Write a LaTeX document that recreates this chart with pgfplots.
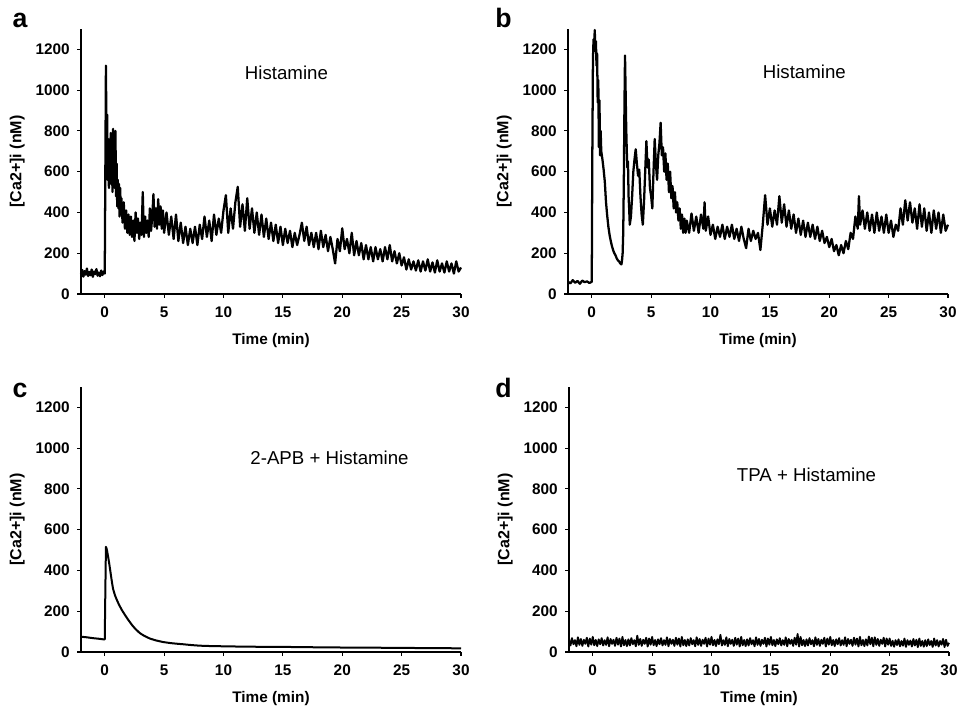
\documentclass[border=0pt]{standalone}
\usepackage{pgfplots}
\pgfplotsset{compat=1.18}
\usepackage{fontspec}
\setmainfont{Liberation Sans}
\begin{document}
\begin{tikzpicture}
\useasboundingbox (0,0) rectangle (721.5pt,532.5pt);
\pgfplotsset{
 panel/.style={
  width=285pt, height=198.75pt, scale only axis,
  xmin=-2, xmax=30, ymin=0, ymax=1300,
  axis x line*=bottom, axis y line*=left,
  axis line style={line width=0.8pt,-},
  xtick={0,5,...,30}, ytick={0,200,...,1200},
  tick align=outside, major tick length=3pt,
  tick style={line width=0.8pt,black},
  ticklabel style={font=\fontsize{11.5}{13}\selectfont\bfseries},
  xticklabel style={yshift=-3pt},
  yticklabel style={xshift=-2pt},
  /pgf/number format/assume math mode=true,
  /pgf/number format/1000 sep={},
  xlabel={Time (min)}, ylabel={[Ca2+]i (nM)},
  xlabel style={font=\fontsize{11.5}{13}\selectfont\bfseries, at={(axis description cs:0.5,-0.176)}, anchor=center},
  ylabel style={font=\fontsize{12}{14}\selectfont\bfseries, at={(axis description cs:-0.168,0.5)}, anchor=center},
  clip=false,
 },
 trace/.style={black, line width=1.7pt, line join=round},
 smooth trace/.style={black, line width=1.5pt, line join=round}
}
% panel letters
\node[anchor=base west, font=\fontsize{20}{22}\selectfont\bfseries] at (6pt,512pt) {a};
\node[anchor=base west, font=\fontsize{20}{22}\selectfont\bfseries] at (368pt,512pt) {b};
\node[anchor=base west, font=\fontsize{20}{22}\selectfont\bfseries] at (6pt,234pt) {c};
\node[anchor=base west, font=\fontsize{20}{22}\selectfont\bfseries] at (368pt,234pt) {d};

% ---------------- a
\begin{axis}[panel, at={(60.75pt,312pt)}, anchor=south west]
\addplot[trace] coordinates {
(-2.0,100)(-1.9,118)(-1.8,85)(-1.7,112)(-1.6,95)(-1.5,125)(-1.4,88)(-1.3,108)(-1.2,92)(-1.1,120)
(-1.0,84)(-0.9,110)(-0.8,98)(-0.7,122)(-0.6,90)(-0.5,105)(-0.4,87)(-0.3,115)(-0.2,93)(-0.1,110)(0.0,100)
(0.05,600)(0.1,1120)(0.15,700)(0.2,880)(0.25,560)(0.3,760)(0.35,520)(0.4,700)(0.45,540)(0.5,790)
(0.55,580)(0.6,720)(0.65,500)(0.7,810)(0.75,560)(0.8,690)(0.85,520)(0.9,800)(0.95,480)(1.0,640)
(1.05,430)(1.1,560)(1.15,420)(1.2,540)(1.25,380)(1.3,520)(1.35,390)(1.4,470)(1.5,350)(1.6,450)
(1.7,320)(1.8,410)(1.9,300)(2.0,390)(2.1,290)(2.2,380)(2.3,280)(2.4,360)(2.5,260)(2.6,400)
(2.7,300)(2.8,370)(2.9,270)(3.0,350)(3.1,290)(3.2,500)(3.3,280)(3.4,380)(3.5,300)(3.6,360)
(3.7,280)(3.8,420)(3.9,310)(4.0,380)(4.1,490)(4.2,330)(4.3,420)(4.4,320)(4.5,465)(4.6,340)
(4.7,430)(4.8,320)(4.9,410)(5.0,300)(5.2,400)(5.4,290)(5.6,380)(5.8,270)(6.0,390)(6.2,260)
(6.4,350)(6.6,250)(6.8,330)(7.0,240)(7.2,320)(7.4,250)(7.6,330)(7.8,240)(8.0,340)(8.2,270)
(8.4,380)(8.6,280)(8.8,360)(9.0,260)(9.2,390)(9.4,290)(9.6,370)(9.8,300)(10.0,410)(10.2,485)
(10.4,300)(10.6,420)(10.8,320)(11.0,450)(11.2,526)(11.4,330)(11.6,440)(11.8,310)(12.0,470)(12.2,320)
(12.4,420)(12.6,300)(12.8,400)(13.0,290)(13.2,390)(13.4,280)(13.6,370)(13.8,270)(14.0,350)(14.2,260)
(14.4,340)(14.6,250)(14.8,330)(15.0,240)(15.2,320)(15.4,250)(15.6,310)(15.8,230)(16.0,300)(16.2,240)
(16.4,290)(16.6,350)(16.8,260)(17.0,330)(17.2,240)(17.4,300)(17.6,230)(17.8,300)(18.0,220)(18.2,310)
(18.4,230)(18.6,290)(18.8,210)(19.0,280)(19.2,220)(19.4,150)(19.6,270)(19.8,210)(20.0,322)(20.2,220)
(20.4,270)(20.6,200)(20.8,300)(21.0,190)(21.2,260)(21.4,190)(21.6,250)(21.8,170)(22.0,240)(22.2,170)
(22.4,230)(22.6,160)(22.8,230)(23.0,170)(23.2,220)(23.4,160)(23.6,230)(23.8,170)(24.0,240)(24.2,160)
(24.4,210)(24.6,150)(24.8,200)(25.0,140)(25.2,180)(25.4,120)(25.6,170)(25.8,120)(26.0,160)(26.2,115)
(26.4,165)(26.6,110)(26.8,160)(27.0,115)(27.2,170)(27.4,110)(27.6,155)(27.8,105)(28.0,165)(28.2,110)
(28.4,150)(28.6,105)(28.8,160)(29.0,110)(29.2,150)(29.4,100)(29.6,160)(29.8,110)(30.0,130)
};
\node[font=\fontsize{14}{16}\selectfont] at (axis cs:15.3,1084) {Histamine};
\end{axis}

% ---------------- b
\begin{axis}[panel, at={(426pt,312pt)}, anchor=south west]
\addplot[trace] coordinates {
(-2.0,60)(-1.8,52)(-1.6,68)(-1.4,55)(-1.2,64)(-1.0,50)(-0.8,66)(-0.6,58)(-0.4,62)(-0.2,54)(0.0,60)
(0.05,700)(0.1,1150)(0.15,1250)(0.2,1190)(0.25,1295)(0.3,1210)(0.35,1240)(0.4,1120)(0.45,1180)(0.5,940)
(0.55,1050)(0.6,720)(0.65,950)(0.7,680)(0.75,800)(0.8,700)(0.9,660)(1.0,610)(1.1,550)(1.2,450)
(1.3,385)(1.4,330)(1.5,290)(1.6,260)(1.7,235)(1.8,215)(1.9,200)(2.0,190)(2.1,175)(2.2,165)
(2.3,160)(2.4,150)(2.5,145)(2.55,165)(2.6,200)(2.65,300)(2.7,550)(2.75,900)(2.8,1170)(2.85,1000)
(2.9,820)(2.95,700)(3.0,620)(3.05,650)(3.1,480)(3.15,420)(3.2,340)(3.3,380)(3.4,480)(3.5,600)
(3.6,660)(3.7,710)(3.8,640)(3.9,580)(4.0,610)(4.1,480)(4.2,390)(4.3,340)(4.4,450)(4.5,600)
(4.6,750)(4.7,620)(4.8,660)(4.9,520)(5.0,480)(5.1,420)(5.2,600)(5.3,760)(5.4,640)(5.5,560)
(5.6,680)(5.7,740)(5.8,840)(5.9,680)(6.0,720)(6.1,600)(6.2,690)(6.3,560)(6.4,640)(6.5,500)
(6.6,600)(6.7,470)(6.8,530)(6.9,420)(7.0,500)(7.1,400)(7.2,450)(7.3,360)(7.4,420)(7.5,320)
(7.6,390)(7.7,300)(7.8,370)(7.9,300)(8.0,360)(8.2,300)(8.4,395)(8.6,310)(8.8,380)(9.0,300)
(9.2,390)(9.4,320)(9.5,450)(9.6,310)(9.8,380)(10.0,290)(10.2,340)(10.4,270)(10.6,330)(10.8,280)
(11.0,340)(11.2,270)(11.4,330)(11.6,280)(11.8,340)(12.0,270)(12.2,320)(12.4,260)(12.6,330)(12.8,270)
(13.0,225)(13.2,320)(13.4,260)(13.6,310)(13.8,270)(14.0,300)(14.2,216)(14.4,340)(14.6,485)(14.8,340)
(15.0,420)(15.2,330)(15.4,410)(15.6,340)(15.8,480)(16.0,350)(16.2,440)(16.4,330)(16.6,410)(16.8,320)
(17.0,390)(17.2,300)(17.4,370)(17.6,290)(17.8,360)(18.0,280)(18.2,350)(18.4,280)(18.6,340)(18.8,270)
(19.0,330)(19.2,260)(19.4,310)(19.6,250)(19.8,280)(20.0,230)(20.2,270)(20.4,210)(20.6,240)(20.8,190)
(21.0,240)(21.2,200)(21.4,260)(21.6,220)(21.8,300)(22.0,270)(22.2,380)(22.4,320)(22.5,480)(22.6,340)
(22.8,410)(23.0,320)(23.2,400)(23.4,310)(23.6,390)(23.8,300)(24.0,400)(24.2,310)(24.4,380)(24.6,300)
(24.8,390)(25.0,300)(25.2,360)(25.4,280)(25.6,340)(25.8,310)(26.0,420)(26.2,340)(26.4,460)(26.6,360)
(26.8,450)(27.0,350)(27.2,420)(27.4,320)(27.6,440)(27.8,330)(28.0,420)(28.2,310)(28.4,400)(28.6,300)
(28.8,410)(29.0,320)(29.2,400)(29.4,300)(29.6,390)(29.8,310)(30.0,340)
};
\node[font=\fontsize{14}{16}\selectfont] at (axis cs:17.9,1090) {Histamine};
\end{axis}

% ---------------- c
\begin{axis}[panel, at={(60.75pt,43.5pt)}, anchor=south west]
\addplot[smooth trace] coordinates {
(-2,75)(-1.5,72)(-1,68)(-0.5,65)(-0.1,62)(0.0,62)(0.05,300)(0.1,516)(0.15,508)(0.2,495)
(0.3,462)(0.4,425)(0.5,385)(0.6,345)(0.7,310)(0.85,280)(1.0,258)(1.2,232)(1.45,205)(1.7,182)
(2.0,156)(2.3,132)(2.6,112)(2.95,93)(3.3,80)(3.8,66)(4.3,57)(4.9,49)(5.5,44)(6.0,41)(6.6,38)
(7.3,34)(8,31)(9,29)(10,28)(12,26)(15,25)(18,23)(20,22)(23,21)(25,20)(28,19)(30,18)
};
\node[font=\fontsize{14}{16}\selectfont] at (axis cs:18.93,954) {2-APB + Histamine};
\end{axis}

% ---------------- d
\begin{axis}[panel, at={(426.75pt,43.5pt)}, anchor=south west]
\addplot[black, line width=1.4pt, line join=round] table {
x y
-2 62
-1.875 32
-1.75 68
-1.625 38
-1.5 58
-1.375 28
-1.25 72
-1.125 35
-1 64
-0.875 30
-0.75 60
-0.625 40
-0.5 70
-0.375 27
-0.25 66
-0.125 36
0 74
0.125 33
0.25 59
0.375 29
0.5 62
0.625 38
0.75 68
0.875 32
1 58
1.125 35
1.25 72
1.375 28
1.5 64
1.625 40
1.75 60
1.875 30
2 70
2.125 36
2.25 66
2.375 27
2.5 74
2.625 33
2.75 59
2.875 29
3 62
3.125 32
3.25 68
3.375 38
3.5 58
3.625 28
3.75 80
3.875 35
4 64
4.125 30
4.25 60
4.375 40
4.5 70
4.625 27
4.75 66
4.875 36
5 74
5.125 33
5.25 59
5.375 29
5.5 62
5.625 38
5.75 68
5.875 32
6 58
6.125 35
6.25 72
6.375 28
6.5 64
6.625 40
6.75 60
6.875 30
7 70
7.125 36
7.25 66
7.375 27
7.5 74
7.625 33
7.75 59
7.875 29
8 62
8.125 32
8.25 68
8.375 38
8.5 58
8.625 28
8.75 72
8.875 35
9 64
9.125 30
9.25 60
9.375 40
9.5 70
9.625 27
9.75 66
9.875 36
10 74
10.125 33
10.25 59
10.375 29
10.5 62
10.625 38
10.75 84
10.875 32
11 58
11.125 35
11.25 72
11.375 28
11.5 64
11.625 40
11.75 60
11.875 30
12 70
12.125 36
12.25 66
12.375 27
12.5 74
12.625 33
12.75 59
12.875 29
13 62
13.125 32
13.25 68
13.375 38
13.5 58
13.625 28
13.75 72
13.875 35
14 64
14.125 30
14.25 60
14.375 40
14.5 70
14.625 27
14.75 66
14.875 36
15 74
15.125 33
15.25 59
15.375 29
15.5 62
15.625 38
15.75 68
15.875 32
16 58
16.125 35
16.25 72
16.375 28
16.5 64
16.625 40
16.75 60
16.875 30
17 70
17.125 36
17.25 88
17.375 27
17.5 74
17.625 33
17.75 59
17.875 29
18 62
18.125 32
18.25 68
18.375 38
18.5 58
18.625 28
18.75 72
18.875 35
19 64
19.125 30
19.25 60
19.375 40
19.5 70
19.625 27
19.75 66
19.875 36
20 74
20.125 33
20.25 59
20.375 29
20.5 62
20.625 38
20.75 68
20.875 32
21 58
21.125 35
21.25 72
21.375 28
21.5 64
21.625 40
21.75 60
21.875 30
22 70
22.125 36
22.25 66
22.375 27
22.5 74
22.625 33
22.75 59
22.875 29
23 62
23.125 32
23.25 76
23.375 38
23.5 70
23.625 28
23.75 72
23.875 35
24 64
24.125 30
24.25 60
24.375 40
24.5 70
24.625 27
24.75 66
24.875 36
25 66
25.125 30
25.25 55
25.375 26
25.5 58
25.625 34
25.75 62
25.875 28
26 54
26.125 31
26.25 66
26.375 25
26.5 58
26.625 35
26.75 56
26.875 27
27 64
27.125 32
27.25 60
27.375 24
27.5 66
27.625 30
27.75 54
27.875 26
28 58
28.125 29
28.25 62
28.375 34
28.5 54
28.625 25
28.75 66
28.875 32
29 58
29.125 27
29.25 54
29.375 36
29.5 64
29.625 24
29.75 60
29.875 30
30 45
};
\node[font=\fontsize{14}{16}\selectfont] at (axis cs:18.0,867) {TPA + Histamine};
\end{axis}
\end{tikzpicture}
\end{document}
